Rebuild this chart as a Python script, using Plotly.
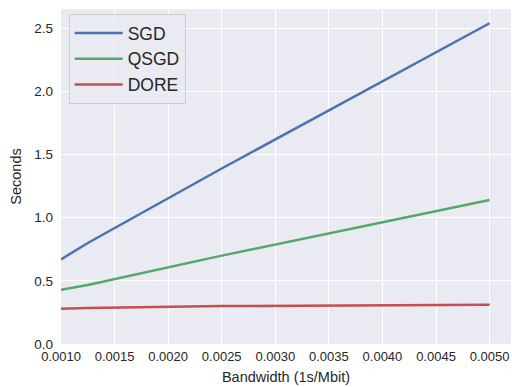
import plotly.graph_objects as go

bandwidth = [0.001, 0.00125, 0.0025, 0.005]
sgd = [0.67, 0.80, 1.39, 2.54]
qsgd = [0.43, 0.467, 0.70, 1.14]
dore = [0.28, 0.285, 0.30, 0.31]

series = [("SGD", sgd, "#4C72B0"), ("QSGD", qsgd, "#55A868"), ("DORE", dore, "#C44E52")]

fig = go.Figure()
for name, ys, color in series:
    fig.add_trace(go.Scatter(x=bandwidth, y=ys, mode="lines", name=name,
                             line=dict(color=color, width=2.5)))

xticks = [0.001, 0.0015, 0.002, 0.0025, 0.003, 0.0035, 0.004, 0.0045, 0.005]
yticks = [0.0, 0.5, 1.0, 1.5, 2.0, 2.5]

font = dict(family="Liberation Sans, Arial, sans-serif", color="#262626")
fig.update_layout(
    width=512, height=387,
    margin=dict(l=61, r=1, t=9, b=43),
    paper_bgcolor="white", plot_bgcolor="#EAEAF2",
    font=dict(size=13, **font),
    showlegend=True,
    legend=dict(x=0.017, y=0.985, xanchor="left", yanchor="top",
                bgcolor="rgba(234,234,242,0.8)", bordercolor="#CCCCCC", borderwidth=1,
                font=dict(size=17.5, **font), itemwidth=48),
    xaxis=dict(range=[0.001, 0.0052], tickvals=xticks,
               ticktext=[f"{v:.4f}" for v in xticks], automargin=False,
               showgrid=True, gridcolor="white", gridwidth=1.3, zeroline=False,
               showline=False, ticks="", ticklabelstandoff=3, tickfont=dict(size=13),
               title=dict(text="Bandwidth (1s/Mbit)", font=dict(size=14.5), standoff=8)),
    yaxis=dict(range=[0, 2.653], tickvals=yticks,
               ticktext=[f"{v:.1f}" for v in yticks], automargin=False,
               showgrid=True, gridcolor="white", gridwidth=1.3, zeroline=False,
               showline=False, ticks="", ticklabelstandoff=7, tickfont=dict(size=13.5),
               title=dict(text="Seconds", font=dict(size=14.5), standoff=9)),
)

fig.write_html("out.html", config={"displayModeBar": False},
               post_script="document.body.style.margin='0';document.body.style.overflow='hidden';")
